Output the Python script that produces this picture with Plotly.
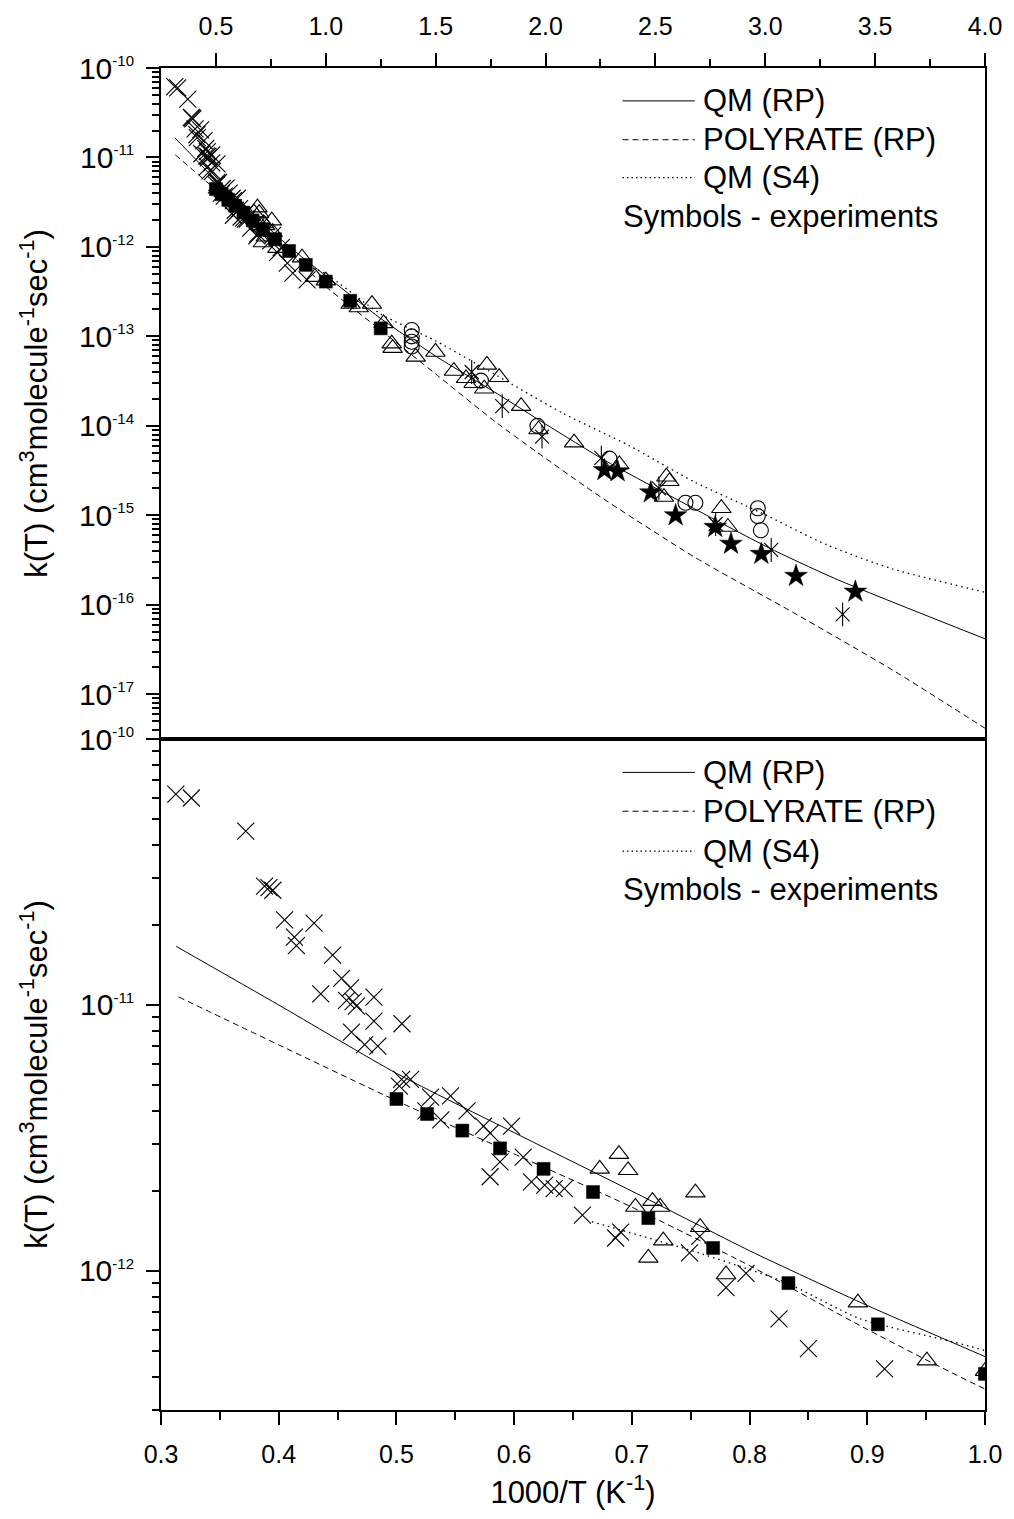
import numpy as np
import plotly.graph_objects as go

# ---------------- data (x = 1000/T in K^-1, k in cm3 molecule-1 s-1) ----------------
qm_rp_x = [0.313, 0.4, 0.5, 0.6, 0.7, 0.8, 0.9, 1.0, 1.25, 1.5, 1.78, 2.0, 2.28, 2.68, 3.03, 3.33, 4.0]
qm_rp_logk = [-10.78, -11.0, -11.257, -11.48, -11.70, -11.924, -12.13, -12.322, -12.80, -13.22,
              -13.64, -13.98, -14.40, -14.93, -15.38, -15.72, -16.38]

poly_x = [0.315, 0.4, 0.5, 0.6, 0.7, 0.8, 0.9, 1.0, 1.25, 1.5, 1.78, 2.23, 2.68, 3.13, 3.58, 4.0]
poly_logk = [-10.97, -11.15, -11.36, -11.56, -11.76, -11.98, -12.22, -12.444, -12.93, -13.42,
             -13.97, -14.76, -15.47, -16.09, -16.73, -17.38]

s4_x = [0.666, 0.753, 0.829, 0.894, 1.0, 1.25, 1.5, 1.78, 2.08, 2.38, 2.68, 2.98, 3.28, 3.58, 4.0]
s4_logk = [-11.815, -11.927, -12.04, -12.18, -12.30, -12.75, -13.05, -13.44, -13.86, -14.22,
           -14.63, -14.97, -15.33, -15.60, -15.86]

cross_x = [0.3126, 0.3258, 0.372, 0.388, 0.3917, 0.395, 0.405, 0.430, 0.4133, 0.415, 0.4458,
           0.4534, 0.461, 0.4357, 0.4576, 0.4632, 0.466, 0.4809, 0.4809, 0.5047, 0.4618, 0.473,
           0.4842, 0.5044, 0.512, 0.5025, 0.529, 0.546, 0.525, 0.5377, 0.56, 0.574, 0.5796,
           0.5978, 0.588, 0.5796, 0.6077, 0.6147, 0.626, 0.634, 0.6427, 0.658, 0.6905, 0.6862,
           0.749, 0.7577, 0.797, 0.780, 0.825, 0.850, 0.9147]
cross_k = [6.2e-11, 6.0e-11, 4.5e-11, 2.8e-11, 2.76e-11, 2.7e-11, 2.09e-11, 2.03e-11, 1.8e-11,
           1.67e-11, 1.54e-11, 1.26e-11, 1.16e-11, 1.1e-11, 1.04e-11, 1.03e-11, 9.9e-12,
           1.07e-11, 8.7e-12, 8.5e-12, 7.9e-12, 7.1e-12, 7.0e-12, 5.25e-12, 5.25e-12, 4.95e-12,
           4.5e-12, 4.55e-12, 4.0e-12, 3.7e-12, 4.0e-12, 3.5e-12, 3.3e-12, 3.5e-12, 2.57e-12,
           2.26e-12, 2.68e-12, 2.16e-12, 2.1e-12, 2.04e-12, 2.04e-12, 1.62e-12, 1.4e-12,
           1.33e-12, 1.17e-12, 1.35e-12, 9.8e-13, 8.65e-13, 6.6e-13, 5.1e-13, 4.28e-13]

square_x = [0.5, 0.526, 0.556, 0.588, 0.625, 0.667, 0.714, 0.769, 0.833, 0.909, 1.0, 1.111, 1.25]
square_k = [4.43e-12, 3.89e-12, 3.37e-12, 2.89e-12, 2.42e-12, 1.98e-12, 1.58e-12, 1.22e-12,
            9.0e-13, 6.3e-13, 4.1e-13, 2.5e-13, 1.23e-13]

tri_x = [0.6727, 0.689, 0.6968, 0.703, 0.7175, 0.724, 0.754, 0.758, 0.7267, 0.714, 0.78, 0.892,
         0.9506, 1.0, 1.113, 1.15, 1.21, 1.263, 1.30, 1.304, 1.409, 1.499, 1.583, 1.638, 1.673,
         1.733, 1.721, 1.789, 1.889, 2.13, 1.968, 2.336, 2.55, 2.564, 2.539, 2.80, 2.83]
tri_k = [2.42e-12, 2.75e-12, 2.39e-12, 1.74e-12, 1.83e-12, 1.74e-12, 1.97e-12, 1.46e-12,
         1.3e-12, 1.12e-12, 9.7e-13, 7.6e-13, 4.6e-13, 4.2e-13, 2.3e-13, 2.1e-13, 2.3e-13,
         1.4e-13, 8.3e-14, 7.4e-14, 5.9e-14, 6.7e-14, 4.1e-14, 3.4e-14, 3.0e-14, 4.8e-14,
         2.6e-14, 3.5e-14, 1.66e-14, 6.5e-15, 9.1e-15, 3.7e-15, 2.7e-15, 2.4e-15, 1.6e-15,
         1.2e-15, 7.4e-16]

circle_x = [1.391, 1.391, 1.391, 1.391, 1.706, 1.963, 2.291, 2.637, 2.682, 2.966, 2.966, 2.98]
circle_k = [1.18e-13, 1.0e-13, 8.7e-14, 7.7e-14, 3.2e-14, 1.0e-14, 4.3e-15, 1.38e-15, 1.38e-15,
            1.2e-15, 9.8e-16, 6.8e-16]

ast_x = [1.664, 1.803, 1.984, 2.254, 2.516, 2.774, 3.027, 3.352]
ast_k = [4.0e-14, 1.66e-14, 7.6e-15, 4.4e-15, 2.0e-15, 8.0e-16, 4.1e-16, 7.8e-17]

star_x = [2.268, 2.328, 2.479, 2.592, 2.772, 2.844, 2.982, 3.14, 3.41]
star_k = [3.2e-15, 3.1e-15, 1.8e-15, 1.0e-15, 7.4e-16, 4.8e-16, 3.7e-16, 2.1e-16, 1.4e-16]

legend_labels = ["QM (RP)", "POLYRATE (RP)", "QM (S4)", "Symbols - experiments"]

top_x_ticks = [0.5, 1.0, 1.5, 2.0, 2.5, 3.0, 3.5, 4.0]
top_y_exps = [-10, -11, -12, -13, -14, -15, -16, -17]
bot_y_exps = [-10, -11, -12]

# ---------------- figure ----------------
FONT = "Liberation Sans, Arial, sans-serif"
fig = go.Figure()

curve_specs = [
    (qm_rp_x, qm_rp_logk, "solid", 1.0),
    (poly_x, poly_logk, "6px,4px", 1.0),
    (s4_x, s4_logk, "1.5px,4px", 1.3),
]
marker_specs = [
    (cross_x, cross_k, dict(symbol="x-thin-open", size=17, color="black", line=dict(width=1.1, color="black"))),
    (square_x, square_k, dict(symbol="square", size=13, color="black", line=dict(width=0.5, color="black"))),
    (tri_x, tri_k, dict(symbol="triangle-up-open", size=17, color="black", line=dict(width=1.1, color="black"))),
    (circle_x, circle_k, dict(symbol="circle-open", size=15, color="black", line=dict(width=1.1, color="black"))),
    (ast_x, ast_k, dict(symbol="line-ns-open", size=17, color="black", line=dict(width=1.1, color="black"))),
    (ast_x, ast_k, dict(symbol="x-thin-open", size=14, color="black", line=dict(width=1.1, color="black"))),
    (star_x, star_k, dict(symbol="star", size=17, color="black", line=dict(width=0.5, color="black"))),
]

for xa, ya in [("x", "y"), ("x2", "y2")]:
    for cx, clog, dash, lw in curve_specs:
        fig.add_trace(go.Scatter(
            x=cx, y=[10 ** v for v in clog], mode="lines", xaxis=xa, yaxis=ya,
            line=dict(color="black", width=lw, dash=dash, shape="spline", smoothing=0.6),
            showlegend=False, hoverinfo="skip"))
    for mx, my, mk in marker_specs:
        fig.add_trace(go.Scatter(
            x=mx, y=my, mode="markers", xaxis=xa, yaxis=ya, marker=mk,
            showlegend=False, cliponaxis=True))


def minor_vals(lo, hi):
    vals = []
    for e in range(lo, hi):
        for m in range(2, 10):
            vals.append(m * 10.0 ** e)
    return vals


def pow_text(e):
    return "10<sup><span style='font-size:15px'>%d</span></sup>" % e


axis_common = dict(showline=True, linewidth=2, linecolor="black", mirror=True,
                   ticks="outside", tickcolor="black", tickwidth=2, showgrid=False,
                   zeroline=False)
xtickfont = dict(family=FONT, size=25, color="black")
ytickfont = dict(family=FONT, size=30, color="black")

ytitle = "k(T) (cm<sup>3</sup>molecule<sup>-1</sup>sec<sup>-1</sup>)"

fig.update_layout(
    width=1014, height=1519,
    margin=dict(l=161, r=21, t=63, b=109),
    paper_bgcolor="white", plot_bgcolor="white",
    font=dict(family=FONT, color="black"),
    showlegend=False,
    xaxis=dict(domain=[0, 1], anchor="y", side="top", range=[0.25, 4.0],
               tickmode="array", tickvals=top_x_ticks,
               ticktext=["%.1f" % v for v in top_x_ticks], ticklen=13,
               ticklabelstandoff=8, tickfont=xtickfont,
               minor=dict(tickmode="array", tickvals=[0.75, 1.25, 1.75, 2.25, 2.75, 3.25, 3.75],
                          ticks="outside", ticklen=7, tickwidth=2, tickcolor="black"),
               **axis_common),
    yaxis=dict(domain=[0.5, 1], anchor="x", type="log", range=[-17.5, -10],
               tickmode="array", tickvals=[10.0 ** e for e in top_y_exps],
               ticktext=[pow_text(e) for e in top_y_exps], ticklen=13,
               ticklabelstandoff=6, tickfont=ytickfont,
               minor=dict(tickmode="array", tickvals=minor_vals(-18, -10),
                          ticks="outside", ticklen=7, tickwidth=2, tickcolor="black"),
               title=dict(text=ytitle, font=dict(family=FONT, size=31), standoff=22),
               **axis_common),
    xaxis2=dict(domain=[0, 1], anchor="y2", range=[0.3, 1.0],
                tickmode="linear", tick0=0.3, dtick=0.1, tickformat=".1f", ticklen=13,
                ticklabelstandoff=8, tickfont=xtickfont,
                minor=dict(tickmode="linear", tick0=0.35, dtick=0.1,
                           ticks="outside", ticklen=8, tickwidth=2, tickcolor="black"),
                title=dict(text="1000/T (K<sup>-1</sup>)", font=dict(family=FONT, size=31), standoff=14),
                **axis_common),
    yaxis2=dict(domain=[0, 0.5], anchor="x2", type="log", range=[np.log10(3e-13), -10],
                tickmode="array", tickvals=[10.0 ** e for e in bot_y_exps],
                ticktext=[pow_text(e) for e in bot_y_exps], ticklen=13,
                ticklabelstandoff=6, tickfont=ytickfont,
                minor=dict(tickmode="array", tickvals=minor_vals(-13, -10),
                           ticks="outside", ticklen=7, tickwidth=2, tickcolor="black"),
                title=dict(text=ytitle, font=dict(family=FONT, size=31), standoff=22),
                **axis_common),
)

# ---------------- in-plot legends (paper coordinates) ----------------
W0, PW, PB, PH = 161.0, 832.0, 1410.0, 1347.0


def px(x):
    return (x - W0) / PW


def py(y):
    return (PB - y) / PH


legend_rows = {"top": [96, 135, 173, 212], "bottom": [770, 809, 849, 888]}
dashes = ["solid", "6px,4px", "1.5px,3px"]
for rows in legend_rows.values():
    for i, lab in enumerate(legend_labels):
        if i < 3:
            fig.add_shape(type="line", xref="paper", yref="paper",
                          x0=px(627), x1=px(700), y0=py(rows[i]), y1=py(rows[i]),
                          line=dict(color="black", width=1 if i < 2 else 1.3, dash=dashes[i]))
            fig.add_annotation(xref="paper", yref="paper", x=px(706), y=py(rows[i]),
                               text=lab, showarrow=False, xanchor="left", yanchor="middle",
                               font=dict(family=FONT, size=31, color="black"))
        else:
            fig.add_annotation(xref="paper", yref="paper", x=px(625), y=py(rows[i]),
                               text=lab, showarrow=False, xanchor="left", yanchor="middle",
                               font=dict(family=FONT, size=31, color="black"))

fig.write_html("out.html", config={"displayModeBar": False},
               post_script="document.body.style.margin='0px';document.body.style.overflow='hidden';")
